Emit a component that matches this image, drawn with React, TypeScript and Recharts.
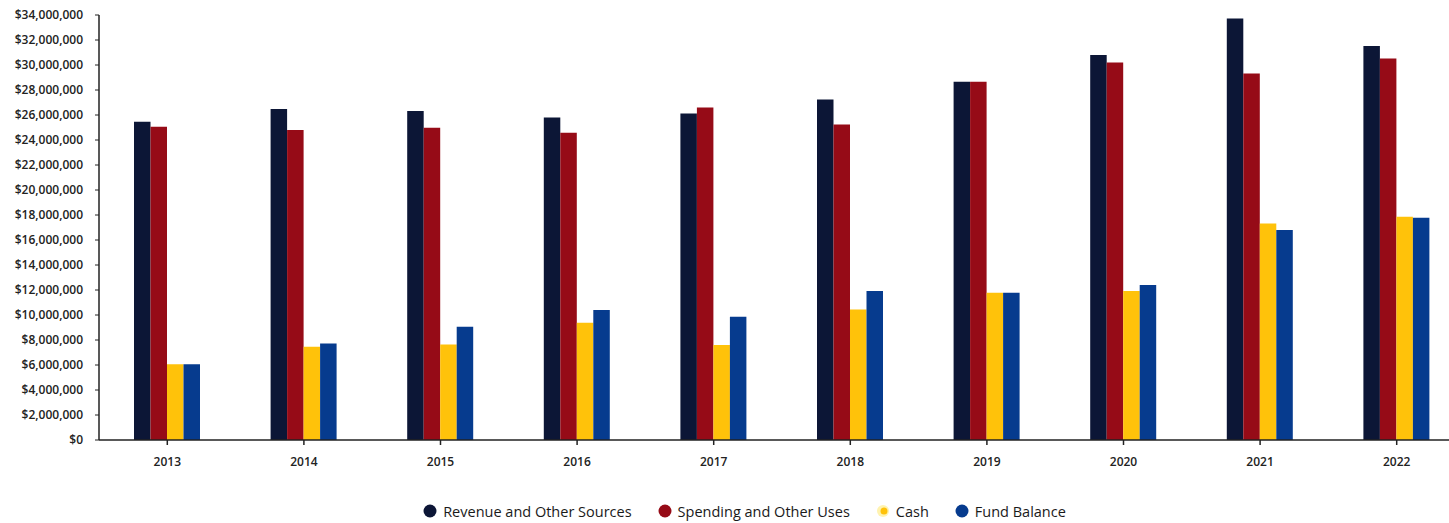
import { BarChart, Bar, XAxis, YAxis, Legend } from "recharts";

const years = ["2013", "2014", "2015", "2016", "2017", "2018", "2019", "2020", "2021", "2022"];
const revenue = [25460000, 26480000, 26320000, 25810000, 26130000, 27250000, 28670000, 30800000, 33730000, 31520000];
const spending = [25060000, 24800000, 24980000, 24590000, 26610000, 25250000, 28670000, 30200000, 29330000, 30530000];
const cash = [6070000, 7470000, 7650000, 9390000, 7600000, 10450000, 11790000, 11920000, 17330000, 17870000];
const fundBalance = [6060000, 7730000, 9070000, 10400000, 9870000, 11920000, 11790000, 12400000, 16800000, 17790000];
const yTicks = [0, 2, 4, 6, 8, 10, 12, 14, 16, 18, 20, 22, 24, 26, 28, 30, 32, 34].map((m) => m * 1000000);

const series = [
  { key: "revenue", name: "Revenue and Other Sources", color: "#0c1636" },
  { key: "spending", name: "Spending and Other Uses", color: "#960b17" },
  { key: "cash", name: "Cash", color: "#ffc20a" },
  { key: "fund", name: "Fund Balance", color: "#063b8e" },
];

const data = years.map((y, i) => ({
  year: y,
  revenue: revenue[i],
  spending: spending[i],
  cash: cash[i],
  fund: fundBalance[i],
}));

const font = "'Open Sans', sans-serif";

function ChartLegend() {
  return (
    <div
      style={{
        display: "flex",
        justifyContent: "center",
        alignItems: "center",
        height: 24,
        paddingLeft: 50,
        fontFamily: font,
        fontSize: 14.5,
        color: "#1a1a1a",
      }}
    >
      {series.map((s) => (
        <div key={s.key} style={{ display: "flex", alignItems: "center", marginRight: 26 }}>
          {s.key === "cash" ? (
            <svg width={14} height={14} style={{ marginRight: 6 }}>
              <circle cx={7} cy={7} r={6} fill="#fff3b0" />
              <circle cx={8} cy={7} r={3.5} fill="#ffc20a" />
            </svg>
          ) : (
            <svg width={14} height={14} style={{ marginRight: 6 }}>
              <circle cx={7} cy={7} r={6.5} fill={s.color} />
            </svg>
          )}
          <span>{s.name}</span>
        </div>
      ))}
    </div>
  );
}

export default function App() {
  return (
    <div style={{ position: "absolute", left: 0, top: 0, width: 1449, height: 523, overflow: "hidden", background: "#fff" }}>
      <BarChart
        width={1466}
        height={523}
        data={data}
        margin={{ top: 15, right: 1, bottom: 0, left: 0 }}
        barGap={0}
        barSize={16.5}
      >
        <XAxis
          dataKey="year"
          height={59}
          axisLine={{ stroke: "#222", strokeWidth: 1.5 }}
          tickLine={{ stroke: "#222", strokeWidth: 1.5 }}
          tickSize={5}
          tickMargin={12}
          tick={{ fontFamily: font, fontSize: 12, fill: "#222", fontWeight: 600 }}
        />
        <YAxis
          width={99}
          domain={[0, 34000000]}
          ticks={yTicks}
          interval={0}
          axisLine={{ stroke: "#222", strokeWidth: 1.5 }}
          tickLine={{ stroke: "#222", strokeWidth: 1 }}
          tickSize={4}
          tickMargin={12}
          tick={{ fontFamily: font, fontSize: 12, fill: "#222", fontWeight: 600 }}
          tickFormatter={(v: number) => `$${v.toLocaleString("en-US")}`}
        />
        <Legend verticalAlign="bottom" content={() => <ChartLegend />} />
        {series.map((s) => (
          <Bar key={s.key} dataKey={s.key} name={s.name} fill={s.color} isAnimationActive={false} />
        ))}
      </BarChart>
    </div>
  );
}
